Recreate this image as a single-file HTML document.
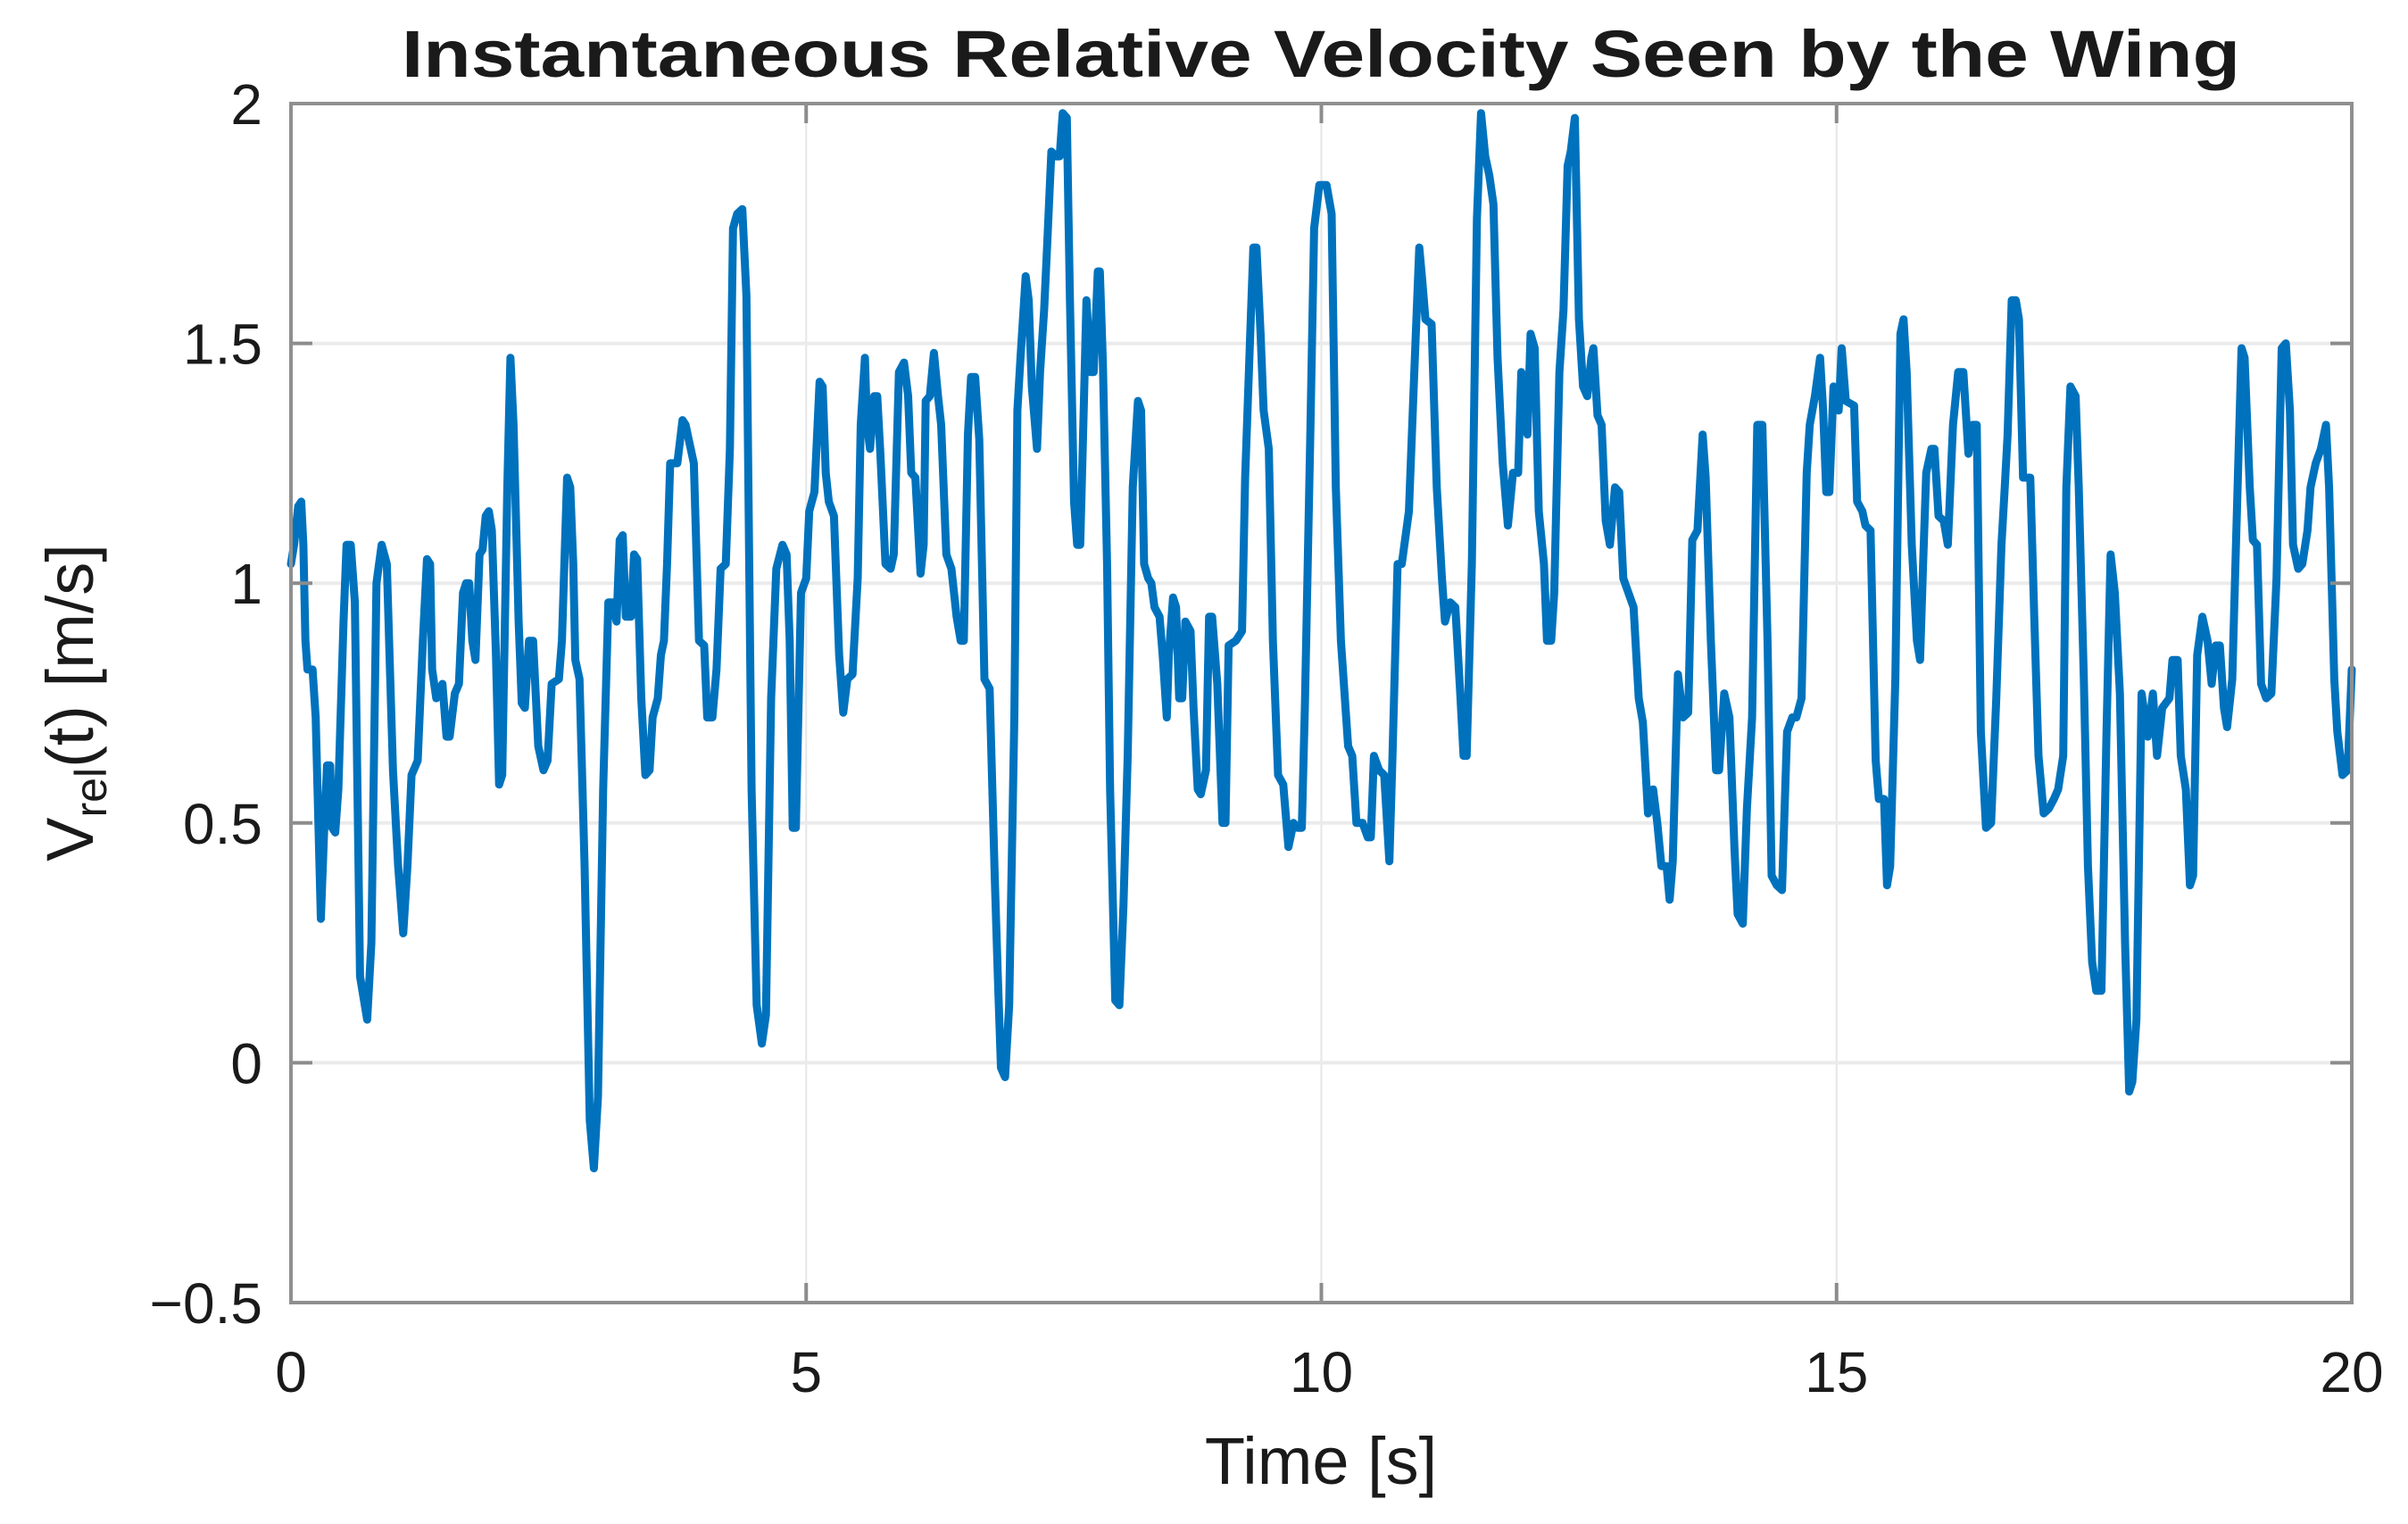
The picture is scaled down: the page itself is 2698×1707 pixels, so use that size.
<!DOCTYPE html>
<html><head><meta charset="utf-8"><style>
html,body{margin:0;padding:0;background:#fff;}
svg{display:block;font-family:"Liberation Sans",Arial,sans-serif;}
</style></head><body>
<svg id="chart" width="2698" height="1707" viewBox="0 0 2698 1707">
<text x="1480" y="86" text-anchor="middle" font-size="74" font-weight="bold" fill="#1a1a1a" textLength="2060" lengthAdjust="spacingAndGlyphs">Instantaneous Relative Velocity Seen by the Wing</text>
<g id="grid"></g>
<g id="series"></g>
<g id="axes"></g>
<text x="1480" y="1662" text-anchor="middle" font-size="74" fill="#1a1a1a">Time [s]</text>
<text transform="translate(104,787) rotate(-90)" text-anchor="middle" font-size="74" fill="#1a1a1a">V<tspan font-size="50" dy="15">rel</tspan><tspan dy="-15">(t) [m/s]</tspan></text>
</svg>
<script>
const xTicks = [0, 5, 10, 15, 20];
const yTicks = [-0.5, 0, 0.5, 1, 1.5, 2];
const yTickLabels = ["\u22120.5", "0", "0.5", "1", "1.5", "2"];
const times = [0,0.03,0.07,0.10,0.12,0.14,0.16,0.21,0.24,0.29,0.32,0.35,0.38,0.40,0.43,0.46,0.51,0.54,0.58,0.62,0.67,0.74,0.78,0.83,0.88,0.93,0.99,1.04,1.09,1.13,1.17,1.23,1.28,1.32,1.35,1.37,1.41,1.47,1.51,1.54,1.59,1.63,1.67,1.70,1.73,1.76,1.79,1.83,1.86,1.89,1.92,1.95,1.99,2.02,2.05,2.10,2.13,2.16,2.21,2.24,2.27,2.31,2.35,2.40,2.45,2.49,2.53,2.60,2.63,2.68,2.71,2.74,2.76,2.80,2.85,2.90,2.94,2.98,3.03,3.08,3.12,3.16,3.19,3.22,3.25,3.30,3.33,3.36,3.40,3.44,3.48,3.51,3.56,3.59,3.62,3.65,3.68,3.75,3.80,3.83,3.86,3.91,3.96,4.01,4.04,4.09,4.13,4.17,4.22,4.26,4.29,4.33,4.38,4.42,4.47,4.52,4.57,4.61,4.66,4.71,4.77,4.81,4.84,4.87,4.90,4.95,5.00,
5.03,5.08,5.13,5.16,5.19,5.22,5.27,5.32,5.36,5.40,5.45,5.50,5.53,5.57,5.59,5.62,5.66,5.69,5.72,5.77,5.82,5.85,5.90,5.95,5.99,6.02,6.06,6.11,6.14,6.16,6.20,6.24,6.28,6.31,6.36,6.41,6.46,6.50,6.53,6.57,6.60,6.64,6.68,6.73,6.78,6.83,6.86,6.89,6.93,6.97,7.02,7.05,7.08,7.13,7.16,7.19,7.24,7.27,7.31,7.34,7.38,7.42,7.46,7.49,7.53,7.56,7.60,7.63,7.66,7.69,7.72,7.76,7.79,7.83,7.85,7.88,7.92,7.95,8.00,8.04,8.08,8.12,8.17,8.22,8.25,8.28,8.32,8.35,8.38,8.43,8.46,8.50,8.52,8.56,8.59,8.62,8.65,8.68,8.73,8.76,8.80,8.83,8.88,8.91,8.94,8.99,9.04,9.07,9.10,9.17,9.23,9.26,9.31,9.34,9.37,9.41,9.44,9.49,9.53,9.58,9.63,9.68,9.73,9.77,9.81,9.84,9.89,9.93,9.98,
10.05,10.10,10.14,10.19,10.26,10.30,10.34,10.40,10.45,10.48,10.51,10.56,10.61,10.66,10.69,10.74,10.78,10.85,10.90,10.95,10.98,11.01,11.07,11.12,11.17,11.20,11.25,11.30,11.35,11.38,11.41,11.46,11.51,11.55,11.59,11.63,11.67,11.71,11.76,11.81,11.86,11.91,11.94,11.97,12.00,12.03,12.07,12.11,12.16,12.19,12.23,12.26,12.31,12.35,12.39,12.42,12.46,12.50,12.54,12.58,12.62,12.64,12.68,12.72,12.76,12.80,12.85,12.89,12.93,12.98,13.03,13.08,13.12,13.17,13.22,13.26,13.30,13.35,13.38,13.41,13.46,13.51,13.56,13.60,13.65,13.70,13.73,13.78,13.83,13.86,13.91,13.96,14.01,14.04,14.09,14.13,14.18,14.23,14.28,14.33,14.37,14.42,14.47,14.52,14.57,14.61,14.66,14.71,14.74,14.79,14.84,14.87,14.90,14.93,14.97,
15.02,15.05,15.09,15.17,15.20,15.25,15.28,15.33,15.38,15.41,15.46,15.49,15.52,15.57,15.62,15.65,15.68,15.73,15.78,15.81,15.84,15.87,15.92,15.95,15.99,16.04,16.08,16.13,16.18,16.23,16.28,16.32,16.36,16.40,16.45,16.50,16.55,16.60,16.63,16.66,16.70,16.74,16.77,16.81,16.88,16.92,16.96,17.01,17.06,17.11,17.15,17.20,17.23,17.27,17.32,17.35,17.40,17.44,17.48,17.52,17.57,17.62,17.66,17.70,17.75,17.80,17.84,17.87,17.91,17.96,18.02,18.07,18.11,18.16,18.23,18.26,18.31,18.34,18.39,18.43,18.46,18.50,18.55,18.60,18.64,18.68,18.72,18.76,18.79,18.84,18.88,18.93,18.96,19.01,19.04,19.08,19.12,19.17,19.22,19.27,19.32,19.36,19.40,19.43,19.48,19.52,19.57,19.60,19.65,19.70,19.75,19.78,19.83,19.86,19.91,19.96,20.0];
const velocity = [1.04,1.08,1.16,1.17,1.08,0.88,0.82,0.82,0.72,0.30,0.47,0.62,0.62,0.49,0.48,0.57,0.92,1.08,1.08,0.96,0.18,0.09,0.25,1.00,1.08,1.04,0.61,0.41,0.27,0.41,0.60,0.63,0.88,1.05,1.04,0.82,0.76,0.79,0.68,0.68,0.77,0.79,0.98,1.00,1.00,0.88,0.84,1.06,1.07,1.14,1.15,1.11,0.85,0.58,0.60,1.20,1.47,1.33,0.92,0.75,0.74,0.88,0.88,0.66,0.61,0.63,0.79,0.80,0.88,1.22,1.20,1.04,0.84,0.80,0.41,-0.12,-0.22,-0.07,0.57,0.96,0.96,0.92,1.09,1.10,0.93,0.93,1.06,1.05,0.76,0.60,0.61,0.72,0.76,0.85,0.88,1.04,1.25,1.25,1.34,1.33,1.30,1.25,0.88,0.87,0.72,0.72,0.82,1.03,1.04,1.28,1.74,1.77,1.78,1.60,0.57,0.12,0.04,0.10,0.76,1.03,1.08,1.06,0.88,0.49,0.49,0.98,1.01,
1.15,1.19,1.42,1.41,1.23,1.17,1.14,0.85,0.73,0.80,0.81,1.01,1.33,1.47,1.33,1.28,1.39,1.39,1.27,1.04,1.03,1.06,1.44,1.46,1.39,1.23,1.22,1.02,1.08,1.38,1.39,1.48,1.39,1.33,1.06,1.03,0.93,0.88,0.88,1.31,1.43,1.43,1.30,0.80,0.78,0.39,0.18,-0.01,-0.03,0.12,0.72,1.36,1.47,1.64,1.59,1.41,1.28,1.44,1.57,1.71,1.90,1.89,1.89,1.98,1.97,1.59,1.17,1.08,1.08,1.33,1.59,1.44,1.44,1.65,1.65,1.46,1.04,0.57,0.13,0.12,0.33,0.64,1.20,1.38,1.36,1.04,1.01,1.00,0.95,0.93,0.85,0.72,0.85,0.97,0.95,0.76,0.76,0.92,0.90,0.74,0.57,0.56,0.61,0.93,0.93,0.79,0.50,0.50,0.87,0.88,0.90,1.22,1.52,1.70,1.70,1.52,1.36,1.28,0.88,0.60,0.58,0.45,0.50,0.49,0.49,0.74,1.28,1.74,1.83,
1.83,1.77,1.20,0.88,0.66,0.64,0.50,0.50,0.47,0.47,0.64,0.61,0.60,0.42,0.64,1.04,1.04,1.15,1.43,1.70,1.63,1.55,1.54,1.20,1.01,0.92,0.96,0.95,0.76,0.64,0.64,1.04,1.76,1.98,1.89,1.85,1.79,1.47,1.25,1.12,1.23,1.23,1.44,1.36,1.31,1.52,1.49,1.15,1.04,0.88,0.88,0.98,1.44,1.57,1.87,1.90,1.97,1.55,1.41,1.39,1.47,1.49,1.35,1.33,1.13,1.08,1.20,1.19,1.01,0.98,0.95,0.76,0.71,0.52,0.57,0.50,0.41,0.41,0.34,0.42,0.81,0.72,0.73,1.09,1.11,1.31,1.22,0.88,0.61,0.61,0.77,0.72,0.44,0.31,0.29,0.53,0.72,1.33,1.33,0.88,0.39,0.37,0.36,0.69,0.72,0.72,0.76,1.23,1.33,1.39,1.47,1.36,1.19,1.19,1.41,
1.36,1.49,1.38,1.37,1.17,1.15,1.12,1.11,0.63,0.55,0.55,0.37,0.41,0.80,1.52,1.55,1.44,1.08,0.88,0.84,1.04,1.23,1.28,1.28,1.14,1.13,1.08,1.33,1.44,1.44,1.27,1.33,1.33,0.69,0.49,0.50,0.76,1.08,1.19,1.31,1.59,1.59,1.55,1.22,1.22,0.92,0.64,0.52,0.53,0.55,0.57,0.64,1.20,1.41,1.39,1.20,0.80,0.41,0.21,0.15,0.15,0.69,1.06,0.98,0.77,0.25,-0.06,-0.04,0.09,0.77,0.68,0.77,0.64,0.74,0.76,0.84,0.84,0.64,0.57,0.37,0.39,0.85,0.93,0.88,0.79,0.87,0.87,0.74,0.70,0.80,1.11,1.49,1.47,1.20,1.09,1.08,0.79,0.76,0.77,1.01,1.49,1.50,1.36,1.08,1.03,1.04,1.11,1.20,1.25,1.28,1.33,1.20,0.80,0.69,0.60,0.61,0.82];

const NS = "http://www.w3.org/2000/svg";
const L = 326, R = 2635, T = 116, B = 1459;
const xMin = 0, xMax = 20, yMin = -0.5, yMax = 2;
function xs(v){ return L + (v - xMin) / (xMax - xMin) * (R - L); }
function ys(v){ return B - (v - yMin) / (yMax - yMin) * (B - T); }
function mk(tag, attrs, parent){
  const e = document.createElementNS(NS, tag);
  for (const k in attrs) e.setAttribute(k, attrs[k]);
  parent.appendChild(e);
  return e;
}
const grid = document.getElementById('grid');
const axes = document.getElementById('axes');
const series = document.getElementById('series');

xTicks.forEach(function(t){
  const x = xs(t);
  const g = mk('line', {x1:x, x2:x, y1:T, y2:B, stroke:'#e6e6e6', 'stroke-width':2}, grid);
  
  
  const tk = mk('line', {x1:x, x2:x, y1:B, y2:B-22, stroke:'#8c8c8c', 'stroke-width':4}, axes);
  
  
  const tk2 = mk('line', {x1:x, x2:x, y1:T, y2:T+22, stroke:'#8c8c8c', 'stroke-width':4}, axes);
  
  
  const lb = mk('text', {x:x, y:1559, 'text-anchor':'middle', 'font-size':64, fill:'#1a1a1a'}, axes);
  lb.textContent = String(t);
  
  
});
yTicks.forEach(function(v, i){
  const y = ys(v);
  if (v > yMin && v < yMax) {
    const g = mk('line', {x1:L, x2:R, y1:y, y2:y, stroke:'#ebebeb', 'stroke-width':4}, grid);
    
    
  }
  const tk = mk('line', {x1:L, x2:L+24, y1:y, y2:y, stroke:'#8c8c8c', 'stroke-width':4}, axes);
  
  
  const tk2 = mk('line', {x1:R-24, x2:R, y1:y, y2:y, stroke:'#8c8c8c', 'stroke-width':4}, axes);
  
  
  const lb = mk('text', {x:294, y:y+23, 'text-anchor':'end', 'font-size':64, fill:'#1a1a1a'}, axes);
  lb.textContent = yTickLabels[i];
  
  
});
const box = mk('rect', {x:L, y:T, width:R-L, height:B-T, fill:'none', stroke:'#8f8f8f', 'stroke-width':4}, axes);



let d = '';
for (let i = 0; i < times.length && i < velocity.length; i++) {
  d += (i ? 'L' : 'M') + xs(times[i]).toFixed(1) + ' ' + ys(velocity[i]).toFixed(1);
}
const path = mk('path', {d:d, fill:'none', stroke:'#0072BD', 'stroke-width':9, 'stroke-linejoin':'round', 'stroke-linecap':'round'}, series);


</script>
</body></html>
